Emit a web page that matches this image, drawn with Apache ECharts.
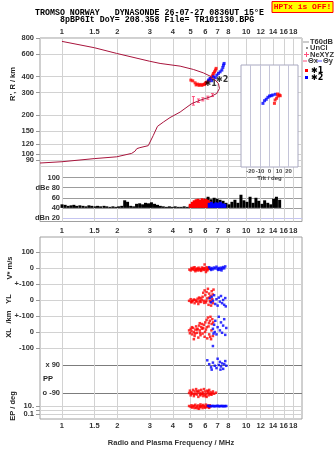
<!DOCTYPE html>
<html>
<head>
<meta charset="utf-8">
<script src="https://cdn.jsdelivr.net/npm/echarts@6/dist/echarts.min.js"></script>
<style>html,body{margin:0;padding:0;background:#fff}#main{width:335px;height:451px}</style>
</head>
<body>
<div id="main"></div>
<script>
var titleLine1 = 'TROMSO NORWAY   DYNASONDE 26-07-27 0836UT 15°E';
var titleLine2 = '8pBP6It DoY= 208.358 File= TR101130.BPG';

var freqTicks = [1, 1.5, 2, 3, 4, 5, 6, 7, 8, 10, 12, 14, 16, 18];
var heightTicks = [80, 90, 100, 120, 150, 200, 300, 400, 600, 800];
var dbTicks = [20, 40, 60, 80, 100];
var tiltTicks = [-20, -10, 0, 10, 20];

// real height profile, MHz / km
var profileFreq = [0.76, 1.0, 1.5, 1.98, 2.39, 2.49, 2.55, 2.65, 2.94, 3.01, 3.13, 3.30, 3.55, 3.86, 4.38, 5.07, 5.62, 6.37, 6.93, 7.16, 7.07, 6.78, 6.37, 5.86, 5.17, 4.38, 3.41, 2.98, 1.98, 1.5, 1.0];
var profileHeight = [85, 87, 92, 95, 101, 105, 110, 112, 116, 120, 139, 164, 177, 192, 212, 247, 262, 278, 296, 324, 354, 376, 404, 428, 455, 483, 507, 528, 607, 672, 753];

// NeXYZ points with error range
var neFreq = [5.17, 5.51, 5.82, 6.19, 6.56];
var neHeight = [259, 260, 266, 274, 287];
var neLow = [240, 252, 259, 267, 280];
var neHigh = [280, 268, 274, 282, 295];

// echoes *1 and *2
var o1Freq = [5.01, 5.13, 5.28, 5.44, 5.62, 5.82, 5.99, 6.16, 6.32, 6.43, 6.51, 6.59, 6.64, 6.73, 6.81, 6.87, 5.35, 5.55, 5.75, 5.95, 6.05];
var o1Height = [376, 371, 358, 350, 348, 348, 354, 364, 376, 387, 399, 411, 424, 436, 450, 464, 345, 342, 342, 347, 360];
var x2Freq = [6.24, 6.37, 6.64, 6.93, 7.07, 7.22, 7.38, 7.47, 7.53, 7.59, 6.5, 6.8];
var x2Height = [376, 387, 399, 411, 424, 436, 450, 472, 492, 507, 372, 392];
var echoTagFreq = [6.42, 7.41];
var echoTagHeight = [353, 376];
var echoTags = ['✱1', '✱2'];

// amplitude, dB
var ampFreq = [1.00, 1.04, 1.08, 1.12, 1.16, 1.20, 1.25, 1.30, 1.35, 1.40, 1.45, 1.51, 1.56, 1.62, 1.69, 1.75, 1.82, 1.89, 1.96, 2.03, 2.11, 2.19, 2.27, 2.36, 2.45, 2.54, 2.64, 2.74, 2.84, 2.95, 3.06, 3.18, 3.30, 3.42, 3.55, 3.69, 3.83, 3.97, 4.12, 4.28, 4.44, 4.61, 4.79, 4.97, 5.16, 5.35, 5.56, 5.77, 5.99, 6.21, 6.45, 6.70, 6.95, 7.21, 7.49, 7.77, 8.07, 8.37, 8.69, 9.02, 9.37, 9.72, 10.1, 10.5, 10.9, 11.3, 11.7, 12.2, 12.6, 13.1, 13.6, 14.1, 14.6, 15.2];
var ampDb = [47, 46, 44, 45, 46, 44, 45, 44, 43, 45, 44, 43, 44, 43, 44, 43, 42, 43, 42, 43, 44, 55, 52, 44, 43, 48, 49, 47, 50, 49, 51, 48, 46, 44, 43, 42, 43, 42, 43, 42, 42, 43, 42, 45, 46, 50, 52, 55, 58, 62, 57, 60, 58, 56, 54, 50, 47, 52, 56, 50, 66, 55, 52, 62, 50, 60, 54, 48, 55, 50, 47, 58, 62, 56];
var ampO1Freq = [4.97, 5.1, 5.22, 5.35, 5.48, 5.62, 5.76, 5.9, 6.05, 6.2, 6.35];
var ampO1Db = [48, 52, 55, 57, 58, 56, 59, 57, 58, 56, 53];
var ampX2Freq = [6.3, 6.48, 6.66, 6.85, 7.04, 7.24, 7.45, 7.66];
var ampX2Db = [50, 52, 49, 51, 50, 52, 49, 48];

// tilt inset (deg, arbitrary vertical)
var tiltO1X = [5.2, 5.9, 7.5, 8.9, 10.3, 11.3, 8.6];
var tiltO1Y = [62.4, 65.7, 67.4, 69.6, 70.6, 69.9, 71.6];
var tiltX2X = [-6.9, -5.2, -3.4, -1.7, 0, 1.8, 3.4, 6.2];
var tiltX2Y = [62.4, 65, 66.4, 68.3, 69.6, 69.9, 70.6, 71.3];

// lower panel: [MHz, value]
var velO1 = [[4.92,-10],[5.0,-15],[5.05,0],[5.12,-5],[5.2,-12],[5.25,5],[5.32,-8],[5.4,-3],[5.45,-15],[5.52,2],[5.6,-6],[5.68,-10],[5.75,3],[5.82,-4],[5.9,-12],[5.95,22],[6.0,-2],[6.05,-25],[6.1,5],[6.18,-8],[6.25,0],[6.32,-5],[5.3,-20],[5.7,-18],[6.15,-15],[5.08,-8],[5.18,2],[5.36,-12],[5.48,-6],[5.58,-14],[5.78,-9],[5.88,0],[6.02,-10],[6.22,-3]];
var velX2 = [[6.3,5],[6.4,-5],[6.5,0],[6.6,-8],[6.7,3],[6.8,-3],[6.9,8],[7.0,-6],[7.1,0],[7.2,-10],[7.3,2],[7.4,-4],[7.5,6],[7.6,-2],[7.7,10],[6.45,-12],[7.05,-12],[7.35,-15]];
var ylO1 = [[4.9,-5],[5.0,5],[5.05,-15],[5.1,-8],[5.2,3],[5.25,-20],[5.3,0],[5.4,-10],[5.45,8],[5.5,-25],[5.6,-3],[5.65,12],[5.7,-12],[5.8,20],[5.85,45],[5.9,-5],[5.95,60],[6.0,30],[6.05,-15],[6.1,50],[6.15,10],[6.2,70],[6.25,-30],[6.3,40],[6.35,-8],[6.4,25],[6.5,55],[6.55,5],[6.6,-20],[6.65,65],[5.55,15],[6.45,-35],[5.02,-10],[5.15,-3],[5.35,-6],[5.58,-12],[5.75,2],[5.92,-18],[6.08,-5],[6.28,15],[6.42,-10],[6.58,35]];
var ylX2 = [[6.35,10],[6.45,-15],[6.5,20],[6.6,-5],[6.7,30],[6.8,-25],[6.9,5],[7.0,-35],[7.1,15],[7.2,-10],[7.3,25],[7.4,-20],[7.5,0],[7.6,-30],[7.7,12],[7.75,-40]];
var xlO1 = [[4.9,10],[4.95,-8],[5.0,20],[5.05,5],[5.1,-15],[5.15,25],[5.2,0],[5.25,-25],[5.3,15],[5.35,35],[5.4,-5],[5.45,20],[5.5,-35],[5.55,40],[5.6,10],[5.65,-20],[5.7,30],[5.75,50],[5.8,-10],[5.85,25],[5.9,45],[5.95,-30],[6.0,60],[6.05,15],[6.1,75],[6.15,-40],[6.2,90],[6.25,35],[6.3,-15],[6.35,70],[6.4,95],[6.45,-45],[6.5,50],[6.55,80],[6.6,-25],[5.2,-45],[5.6,55],[5.08,30],[5.28,-10],[5.42,15],[5.62,-5],[5.78,20],[5.98,0],[6.12,30],[6.28,55],[6.48,10],[6.62,60],[6.38,-30]];
var xlX2 = [[6.6,20],[6.65,-10],[6.7,45],[6.75,0],[6.8,70],[6.9,-15],[7.0,30],[7.1,95],[7.2,10],[7.3,60],[7.4,-5],[7.5,40],[7.6,80],[7.7,-18],[7.8,25],[6.6,-88]];
var ppO1 = [[4.9,-90],[4.95,-75],[5.0,-105],[5.05,-85],[5.1,-95],[5.15,-70],[5.2,-110],[5.25,-80],[5.3,-95],[5.35,-65],[5.4,-100],[5.45,-85],[5.5,-115],[5.55,-75],[5.6,-90],[5.65,-105],[5.7,-70],[5.75,-95],[5.8,-85],[5.85,-110],[5.9,-65],[5.95,-100],[6.0,-80],[6.05,-95],[6.1,-115],[6.15,-75],[6.2,-90],[6.25,-105],[6.3,-70],[6.35,-95],[6.4,-85],[6.5,-100],[6.6,-80],[6.7,-95],[6.85,-88],[5.02,-92],[5.22,-98],[5.42,-78],[5.62,-100],[5.82,-95],[6.02,-110],[6.22,-80],[6.42,-100],[6.55,-90]];
var ppX2 = [[6.15,120],[6.3,95],[6.45,75],[6.6,105],[6.75,85],[6.9,70],[7.0,130],[7.1,90],[7.2,110],[7.3,80],[7.4,100],[7.5,65],[7.6,95],[7.7,115],[7.8,85],[6.5,60],[7.25,60]];
var epO1 = [[4.9,10],[5.0,6],[5.05,15],[5.1,4],[5.2,12],[5.25,3],[5.3,20],[5.4,8],[5.45,2.5],[5.5,14],[5.6,5],[5.65,25],[5.7,7],[5.8,3],[5.85,18],[5.9,9],[6.0,4],[6.05,22],[6.1,6],[6.2,12],[6.3,3.5],[6.35,15],[5.55,2],[5.75,11],[5.15,8],[5.35,4],[5.62,9],[5.95,5],[6.15,9],[6.25,5],[6.4,8]];
var epX2 = [[6.2,12],[6.3,8],[6.4,10],[6.5,9],[6.6,11],[6.7,8],[6.8,10],[6.9,9],[7.0,12],[7.1,8],[7.2,10],[7.3,9],[7.4,11],[7.5,8],[7.6,10],[7.7,9],[7.8,10]];

function pairs(a, b) {
    return a.map(function (v, i) { return [v, b[i]]; });
}

var FMIN = 0.76, FMAX = 20.1;
var RED = '#ff0000', BLUE = '#0000ff';
var GRIDC = '#d2d2d2';
var lblFont = {fontSize: 7.5, fontWeight: 'bold', color: '#333', fontFamily: 'Liberation Sans'};

function fmtFreq(v) { return String(+Number(v).toPrecision(3)); }

function fAxis(grid, min, extra) {
    return Object.assign({type: 'log', logBase: 10, gridIndex: grid, min: min, max: FMAX, show: false}, extra || {});
}
function fShown(grid, pos, margin, split, extra) {
    return fAxis(grid, FMIN, Object.assign({
        show: true, position: pos,
        axisLine: {show: false},
        axisTick: {show: false, customValues: freqTicks},
        axisLabel: Object.assign({customValues: freqTicks, formatter: fmtFreq, margin: margin}, lblFont),
        splitLine: {show: split, lineStyle: {color: GRIDC, width: 1}}
    }, extra || {}));
}
function yStrip(grid, min, max, ticks, fmt, extra) {
    return Object.assign({
        type: 'value', gridIndex: grid, min: min, max: max,
        axisLine: {show: false},
        axisTick: {show: true, length: 4, customValues: ticks, lineStyle: {color: '#999'}},
        axisLabel: Object.assign({customValues: ticks, margin: 6, formatter: fmt}, lblFont),
        splitLine: {show: true, lineStyle: {color: GRIDC, width: 1}}
    }, extra || {});
}

function errorBar(params, api) {
    var x = api.value(0);
    var lo = api.coord([x, api.value(2)]);
    var hi = api.coord([x, api.value(3)]);
    var s = {stroke: '#ff4f7b', lineWidth: 1};
    return {type: 'group', children: [
        {type: 'line', shape: {x1: lo[0], y1: lo[1], x2: hi[0], y2: hi[1]}, style: s},
        {type: 'line', shape: {x1: lo[0] - 1.5, y1: lo[1], x2: lo[0] + 1.5, y2: lo[1]}, style: s},
        {type: 'line', shape: {x1: hi[0] - 1.5, y1: hi[1], x2: hi[0] + 1.5, y2: hi[1]}, style: s}
    ]};
}
function ampBar(color) {
    return function (params, api) {
        var top = api.coord([api.value(0), api.value(1)]);
        var base = api.coord([api.value(0), 40]);
        return {type: 'rect', shape: {x: top[0] - 1.5, y: top[1], width: 3, height: base[1] - top[1]}, style: {fill: color}};
    };
}
function dots(x, y, data, color, size) {
    return {type: 'scatter', xAxisIndex: x, yAxisIndex: y, data: data, symbol: 'rect', symbolSize: size || 2.5,
        itemStyle: {color: color}, silent: true};
}
function txt(x, y, s, font, fill, align, rot) {
    return {type: 'text', x: x, y: y, rotation: rot || 0, z: 50,
        style: {text: s, font: font, fill: fill || '#222', textAlign: align || 'left', align: align || 'left',
            textVerticalAlign: 'middle', verticalAlign: 'middle'}};
}
function seg(x1, y1, x2, y2, color) {
    return {type: 'line', z: 50, shape: {x1: x1, y1: y1, x2: x2, y2: y2}, style: {stroke: color, lineWidth: 1}};
}

var chart = echarts.init(document.getElementById('main'));
var R90 = Math.PI / 2;
var axFont = 'bold 7.5px "Liberation Sans"';

var option = {
    animation: false,
    grid: [
        {left: 40, right: 33, top: 38, height: 183.5, show: true, borderColor: '#a0a0a0', borderWidth: 1, outerBoundsMode: 'none'},
        {left: 40, right: 33, top: 38, height: 132, outerBoundsMode: 'none'},
        {left: 62, right: 33, top: 170, height: 51.5, outerBoundsMode: 'none'},
        {left: 241, width: 57, top: 65, height: 102, show: true, z: 5, backgroundColor: '#fff', borderColor: '#a8a8c0', borderWidth: 1, outerBoundsMode: 'none'},
        {left: 40, right: 33, top: 237, height: 182, show: true, borderColor: '#a0a0a0', borderWidth: 1, outerBoundsMode: 'none'},
        {left: 40, right: 33, top: 237, height: 47, outerBoundsMode: 'none'},
        {left: 40, right: 33, top: 284, height: 32, outerBoundsMode: 'none'},
        {left: 40, right: 33, top: 316, height: 39, outerBoundsMode: 'none'},
        {left: 62, right: 33, top: 355, height: 45, outerBoundsMode: 'none'},
        {left: 40, right: 33, top: 400, height: 19, outerBoundsMode: 'none'}
    ],
    xAxis: [
        fShown(0, 'top', 2, true),
        fShown(0, 'bottom', 5, false),
        fAxis(1, FMIN),
        fAxis(2, 1),
        {type: 'value', gridIndex: 3, min: -30, max: 30, z: 6,
            axisLine: {show: false}, axisTick: {show: false, customValues: tiltTicks},
            axisLabel: {customValues: tiltTicks, fontSize: 6, margin: 1.5, color: '#444', fontWeight: 'bold', fontFamily: 'Liberation Sans'},
            splitLine: {show: true, lineStyle: {color: '#c4c4d8'}},
            name: 'Tilt / deg', nameLocation: 'middle', nameGap: 8.5,
            nameTextStyle: {fontSize: 6, fontWeight: 'bold', color: '#444', fontFamily: 'Liberation Sans'}},
        fShown(4, 'bottom', 3, true, {name: 'Radio and Plasma Frequency / MHz', nameLocation: 'middle', nameGap: 20,
            nameTextStyle: {fontSize: 7.5, fontWeight: 'bold', color: '#333', fontFamily: 'Liberation Sans'}}),
        fAxis(5, FMIN),
        fAxis(6, FMIN),
        fAxis(7, FMIN),
        fAxis(8, 1),
        fAxis(9, FMIN)
    ],
    yAxis: [
        {type: 'value', gridIndex: 0, min: 0, max: 1, show: false},
        yStrip(1, 75, 800, heightTicks, null, {type: 'log', logBase: 10}),
        yStrip(2, 13, 115, dbTicks, null, {axisTick: {show: false, customValues: dbTicks}, axisLabel: Object.assign({customValues: dbTicks, margin: 2, formatter: function (v) {
            return v === 80 ? 'dBe 80' : v === 20 ? 'dBn 20' : String(v);
        }}, lblFont), splitLine: {show: true, lineStyle: {color: ['#c4c4f0', '#9c9c9c', '#9c9c9c', '#9c9c9c', '#9c9c9c'], width: 1}}}),
        {type: 'value', gridIndex: 3, min: 0, max: 100, show: false},
        {type: 'value', gridIndex: 4, min: 0, max: 1, show: false},
        yStrip(5, -100, 194, [0, 100], null),
        yStrip(6, -100, 100, [0, 100], function (v) { return v === 100 ? '+-100' : String(v); }),
        yStrip(7, -144, 100, [-100, 0, 100], function (v) { return v === 100 ? '+-100' : String(v); }),
        yStrip(8, -135, 154, [-90, 90], null, {axisTick: {show: false, customValues: [-90, 90]},
            axisLabel: Object.assign({customValues: [-90, 90], margin: 2, formatter: function (v) { return v > 0 ? 'x 90' : 'o -90'; }}, lblFont),
            splitLine: {show: true, lineStyle: {color: '#7c7c7c', width: 1}}}),
        yStrip(9, 0.0056, 316, [0.1, 1, 10], function (v) { return v > 5 ? '10.' : v < 0.5 ? '0.1' : ''; }, {type: 'log', logBase: 10})
    ],
    series: [
        {type: 'line', xAxisIndex: 2, yAxisIndex: 1, data: pairs(profileFreq, profileHeight), symbol: 'none',
            lineStyle: {color: '#a8143c', width: 1}, silent: true},
        {type: 'custom', xAxisIndex: 2, yAxisIndex: 1, renderItem: errorBar, silent: true,
            data: neFreq.map(function (f, i) { return [f, neHeight[i], neLow[i], neHigh[i]]; })},
        dots(2, 1, pairs(o1Freq, o1Height), RED, 3),
        dots(2, 1, pairs(x2Freq, x2Height), BLUE, 3),
        {type: 'scatter', xAxisIndex: 2, yAxisIndex: 1, data: pairs(echoTagFreq, echoTagHeight), symbolSize: 0, silent: true,
            label: {show: true, position: 'inside', formatter: function (p) { return echoTags[p.dataIndex]; },
                fontSize: 8, fontWeight: 'bold', color: '#000', fontFamily: 'DejaVu Sans'}},
        {type: 'custom', xAxisIndex: 3, yAxisIndex: 2, renderItem: ampBar('#000'), data: pairs(ampFreq, ampDb), silent: true},
        {type: 'custom', xAxisIndex: 3, yAxisIndex: 2, renderItem: ampBar(RED), data: pairs(ampO1Freq, ampO1Db), silent: true},
        {type: 'custom', xAxisIndex: 3, yAxisIndex: 2, renderItem: ampBar(BLUE), data: pairs(ampX2Freq, ampX2Db), silent: true},
        Object.assign(dots(4, 3, pairs(tiltX2X, tiltX2Y), BLUE, 3), {z: 7}),
        Object.assign(dots(4, 3, pairs(tiltO1X, tiltO1Y), RED, 3), {z: 7}),
        dots(6, 5, velO1, RED), dots(6, 5, velX2, BLUE),
        dots(7, 6, ylO1, RED), dots(7, 6, ylX2, BLUE),
        dots(8, 7, xlO1, RED), dots(8, 7, xlX2, BLUE),
        dots(9, 8, ppO1, RED), dots(9, 8, ppX2, BLUE),
        dots(10, 9, epO1, RED), dots(10, 9, epX2, BLUE)
    ],
    graphic: [
        txt(35, 12.5, titleLine1, 'bold 8.3px "Liberation Mono"', '#000'),
        txt(60, 19.5, titleLine2, 'bold 8.3px "Liberation Mono"', '#000'),
        {type: 'rect', z: 49, shape: {x: 272, y: 1.5, width: 61, height: 11}, style: {fill: '#ffff00', stroke: '#ff0000', lineWidth: 1}},
        txt(302.5, 7, 'HPTx is OFF!', 'bold 8px "Liberation Mono"', '#ff0000', 'center'),
        // legend
        seg(303, 42, 309, 42, '#999'), txt(310, 42, 'T60dB', axFont, '#333'),
        {type: 'circle', z: 50, shape: {cx: 307, cy: 48, r: 0.8}, style: {fill: '#000'}}, txt(310, 48, 'UnCl', axFont, '#333'),
        seg(304, 54.5, 309, 54.5, '#ff4f7b'), seg(306.5, 52, 306.5, 57, '#ff4f7b'), txt(310, 54.5, 'NeXYZ', axFont, '#333'),
        seg(303, 61, 307, 61, '#ff4f7b'), txt(308, 61, 'Θx', axFont, '#333'),
        seg(317, 61, 322, 61, '#4f4fff'), txt(323, 61, 'Θy', axFont, '#333'),
        {type: 'rect', z: 50, shape: {x: 305, y: 69, width: 3, height: 3}, style: {fill: RED}}, txt(311, 71, '✱1', 'bold 8px "DejaVu Sans"', '#000'),
        {type: 'rect', z: 50, shape: {x: 305, y: 76, width: 3, height: 3}, style: {fill: BLUE}}, txt(311, 78, '✱2', 'bold 8px "DejaVu Sans"', '#000'),
        // axis titles
        txt(13, 84, "R', R / km", axFont, '#222', 'center', R90),
        txt(10, 268, 'V* m/s', axFont, '#222', 'center', R90),
        txt(9, 299, 'YL', axFont, '#222', 'center', R90),
        txt(9, 317, '/km', axFont, '#222', 'center', R90),
        txt(9, 333, 'XL', axFont, '#222', 'center', R90),
        txt(13, 406, 'EP / deg', axFont, '#222', 'center', R90),
        txt(43, 379, 'PP', axFont, '#222')
    ]
};
chart.setOption(option);
window.addEventListener('resize', function () {
    chart.resize();
});
</script>
</body>
</html>
